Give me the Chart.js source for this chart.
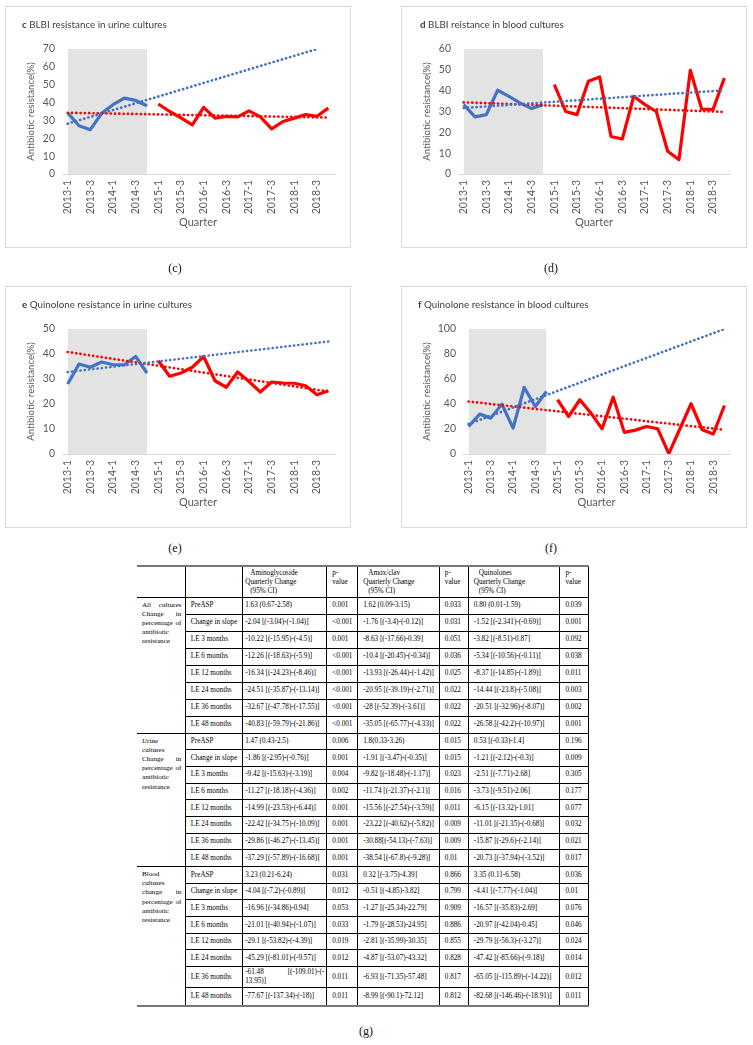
<!DOCTYPE html>
<html><head><meta charset="utf-8">
<script src="https://cdn.jsdelivr.net/npm/chart.js@4.4.0/dist/chart.umd.min.js"></script>
<style>
html,body{margin:0;padding:0;background:#fff;}
body{width:753px;height:1045px;position:relative;overflow:hidden;}
.panel{position:absolute;width:346px;height:242px;}
.frame{position:absolute;left:0;top:0;width:346px;height:242px;border:1px solid #D9D9D9;box-sizing:border-box;}
.panel canvas{position:absolute;left:0;top:0;}
.ptitle{position:absolute;top:12px;font:9.8px Lato;color:#404040;white-space:nowrap;}
.plabel{position:absolute;font:12px "Liberation Serif";color:#111;transform:translate(-50%,-50%);}
#tbl{position:absolute;left:137px;top:565px;border-collapse:collapse;table-layout:fixed;width:452px;
  font:7.2px/8.6px "Liberation Serif";color:#000;border-top:2px solid #777;border-bottom:2px solid #777;}
#tbl td{border:1px solid #000;padding:0 2px 0 5px;vertical-align:middle;white-space:nowrap;overflow:hidden;}
#tbl tr.hdr td{vertical-align:top;padding-top:2px;line-height:9px;}
#tbl td.c0{border-left:none;}
#tbl td.grp{vertical-align:top;white-space:normal;text-align:justify;padding:3px 3.5px 0 5px;line-height:9.2px;font-size:7.1px;}
#tbl td.est{padding-left:2px;}
.ind{padding-left:5px;}
</style></head>
<body>
<script>
// ---------- DATA ----------
const quarters = ['2013-1','2013-2','2013-3','2013-4','2014-1','2014-2','2014-3','2014-4',
  '2015-1','2015-2','2015-3','2015-4','2016-1','2016-2','2016-3','2016-4',
  '2017-1','2017-2','2017-3','2017-4','2018-1','2018-2','2018-3','2018-4'];
const preAspQuarters = ['2013-1','2013-2','2013-3','2013-4','2014-1','2014-2','2014-3','2014-4'];
const yTickMax = [70, 60, 50, 100];
const yTickStep = [10, 10, 5, 10];

// c BLBI urine
const blbiUrinePre  = [34.2, 27.0, 24.8, 34.0, 38.8, 42.5, 41.2, 38.2];
const blbiUrinePost = [39.2, 35.0, 31.4, 27.5, 37.3, 31.3, 32.2, 32.0, 35.4, 32.0, 25.3, 29.4, 31.3, 33.3, 32.3, 36.9];
const blbiUrinePreTrend  = [28.2, 70.0];   // at 2013-1 and 2018-3
const blbiUrinePostTrend = [34.3, 31.6];   // at 2013-1 and 2018-4
// d BLBI blood
const blbiBloodPre  = [33.3, 27.4, 28.5, 40.2, 37.3, 34.0, 31.4, 33.3];
const blbiBloodPost = [42.9, 30.0, 28.5, 44.5, 46.6, 18.0, 16.8, 37.3, 33.3, 30.0, 10.9, 6.9, 49.8, 31.2, 30.9, 46.1];
const blbiBloodPreTrend  = [31.7, 40.2];
const blbiBloodPostTrend = [34.4, 29.8];
// e Quinolone urine
const quinUrinePre  = [28.0, 36.0, 34.7, 36.8, 35.7, 35.7, 39.0, 32.4];
const quinUrinePost = [37.3, 31.1, 32.4, 34.7, 39.0, 29.3, 26.7, 32.8, 29.0, 24.8, 28.8, 28.4, 28.3, 27.3, 23.7, 25.3];
const quinUrinePreTrend  = [32.8, 45.0];
const quinUrinePostTrend = [40.8, 25.0];
// f Quinolone blood
const quinBloodPre  = [22.0, 31.9, 28.7, 39.9, 20.7, 53.2, 38.0, 50.0];
const quinBloodPost = [43.4, 30.0, 43.4, 32.7, 20.2, 45.5, 17.3, 19.1, 22.0, 20.2, 0.3, 20.2, 40.2, 19.4, 16.0, 38.8];
const quinBloodPreTrend  = [24.0, 100.0];
const quinBloodPostTrend = [42.0, 19.4];

const preTrendEnds  = [['2013-1','2018-3'], ['2013-1','2018-4'], ['2013-1','2018-4'], ['2013-1','2018-4']];
const postTrendEnds = ['2013-1','2018-4'];

const panelTitles = [['c',' BLBI resistance in urine cultures'], ['d',' BLBI reistance in blood cultures'],
                     ['e',' Quinolone resistance in urine cultures'], ['f',' Quinolone resistance in blood cultures']];
const yAxisTitle = 'Antibiotic resistance(%)';
const xAxisTitle = 'Quarter';

// table
const tableHeads = ['Aminoglycoside', 'Amox/clav', 'Quinolones'];
const tableGroups = ['All cultures Change in percentage of antibiotic resistance',
                     'Urine cultures Change in percentage of antibiotic resistance',
                     'Blood cultures change in percentage of antibiotic resistance'];
const tableRowNames = ['PreASP','Change in slope','LE 3 months','LE 6 months','LE 12 months','LE 24 months','LE 36 months','LE 48 months'];
const allCulturesRows = [
 ['1.63 (0.67-2.58)','0.001','1.62 (0.09-3.15)','0.033','0.80 (0.01-1.59)','0.039'],
 ['-2.04 [(-3.04)-(-1.04)]','<0.001','-1.76 [(-3.4)-(-0.12)]','0.031','-1.52 [(-2.341)-(-0.69)]','0.001'],
 ['-10.22 [(-15.95)-(-4.5)]','0.001','-8.63 [(-17.66)-0.39]','0.051','-3.82 [(-8.51)-0.87]','0.092'],
 ['-12.26 [(-18.63)-(-5.9)]','<0.001','-10.4 [(-20.45)-(-0.34)]','0.036','-5.34 [(-10.56)-(-0.11)]','0.038'],
 ['-16.34 [(-24.23)-(-8.46)]','<0.001','-13.93 [(-26.44)-(-1.42)]','0.025','-8.37 [(-14.85)-(-1.89)]','0.011'],
 ['-24.51 [(-35.87)-(-13.14)]','<0.001','-20.95 [(-39.19)-(-2.71)]','0.022','-14.44 [(-23.8)-(-5.08)]','0.003'],
 ['-32.67 [(-47.78)-(-17.55)]','<0.001','-28 [(-52.39)-(-3.61)]','0.022','-20.51 [(-32.96)-(-8.07)]','0.002'],
 ['-40.83 [(-59.79)-(-21.86)]','<0.001','-35.05 [(-65.77)-(-4.33)]','0.022','-26.58 [(-42.2)-(-10.97)]','0.001']];
const urineRows = [
 ['1.47 (0.43-2.5)','0.006','1.8(0.33-3.26)','0.015','0.53 [(-0.33)-1.4]','0.196'],
 ['-1.86 [(-2.95)-(-0.76)]','0.001','-1.91 [(-3.47)-(-0.35)]','0.015','-1.21 [(-2.12)-(-0.3)]','0.009'],
 ['-9.42 [(-15.63)-(-3.19)]','0.004','-9.82 [(-18.48)-(-1.17)]','0.023','-2.51 [(-7.71)-2.68]','0.305'],
 ['-11.27 [(-18.18)-(-4.36)]','0.002','-11.74 [(-21.37)-(-2.1)]','0.016','-3.73 [(-9.51)-2.06]','0.177'],
 ['-14.99 [(-23.53)-(-6.44)]','0.001','-15.56 [(-27.54)-(-3.59)]','0.011','-6.15 [(-13.32)-1.01]','0.077'],
 ['-22.42 [(-34.75)-(-10.09)]','0.001','-23.22 [(-40.62)-(-5.82)]','0.009','-11.01 [(-21.35)-(-0.68)]','0.032'],
 ['-29.86 [(-46.27)-(-13.45)]','0.001','-30.88[(-54.13)-(-7.63)]','0.009','-15.87 [(-29.6)-(-2.14)]','0.021'],
 ['-37.29 [(-57.89)-(-16.68)]','0.001','-38.54 [(-67.8)-(-9.28)]','0.01','-20.73 [(-37.94)-(-3.52)]','0.017']];
const bloodRows = [
 ['3.23 (0.21-6.24)','0.031','0.32 [(-3.75)-4.39]','0.866','3.35 (0.11-6.58)','0.036'],
 ['-4.04 [(-7.2)-(-0.89)]','0.012','-0.51 [(-4.85)-3.82]','0.799','-4.41 [(-7.77)-(-1.04)]','0.01'],
 ['-16.96 [(-34.86)-0.94]','0.053','-1.27 [(-25.34)-22.79]','0.909','-16.57 [(-35.83)-2.69]','0.076'],
 ['-21.01 [(-40.94)-(-1.07)]','0.033','-1.79 [(-28.53)-24.95]','0.886','-20.97 [(-42.04)-0.45]','0.046'],
 ['-29.1 [(-53.82)-(-4.39)]','0.019','-2.81 [(-35.99)-30.35]','0.855','-29.79 [(-56.3)-(-3.27)]','0.024'],
 ['-45.29 [(-81.01)-(-9.57)]','0.012','-4.87 [(-53.07)-43.32]','0.828','-47.42 [(-85.66)-(-9.18)]','0.014'],
 ['-61.48 [(-109.01)-(-13.95)]','0.011','-6.93 [(-71.35)-57.48]','0.817','-65.05 [(-115.89)-(-14.22)]','0.012'],
 ['-77.67 [(-137.34)-(-18)]','0.011','-8.99 [(-90.1)-72.12]','0.812','-82.68 [(-146.46)-(-18.91)]','0.011']];

// ---------- LAYOUT ----------
const panelBoxes = [[5,6],[401,6],[5,286],[401,286]];
const yAxisWidths = [57,57,57,62];
const titleLefts = [17,19,17,17];
const panelLabels = [['(c)',175,268],['(d)',551,268],['(e)',175,548],['(f)',551,548],['(g)',366,1031]];
const colWidths = [48.3,57.4,84,31,81.6,29,91.7,29];
const headerHeight = 31;
const groupRowHeights = [[17,17,17,17,17,17,17,17],[16.7,16.7,16.7,16.7,16.7,16.7,16.7,16.7],[16.7,16.7,16.7,16.7,16.7,16.7,21,18.3]];

const seriesPre  = [blbiUrinePre, blbiBloodPre, quinUrinePre, quinBloodPre];
const seriesPost = [blbiUrinePost, blbiBloodPost, quinUrinePost, quinBloodPost];
const trendPre   = [blbiUrinePreTrend, blbiBloodPreTrend, quinUrinePreTrend, quinBloodPreTrend];
const trendPost  = [blbiUrinePostTrend, blbiBloodPostTrend, quinUrinePostTrend, quinBloodPostTrend];

function placeAt(startLabel, values){
  const out = quarters.map(()=>null);
  const s = quarters.indexOf(startLabel);
  values.forEach((v,i)=>{ out[s+i] = v; });
  return out;
}
function placeEnds(ends, values){
  const out = quarters.map(()=>null);
  ends.forEach((q,i)=>{ out[quarters.indexOf(q)] = values[i]; });
  return out;
}

const BLUE = '#4472C4', RED = '#FF0000', SHADE = '#E3E3E3', TICK = '#595959';
const fontTick = {family:'Lato', size:10.5};

for (let p = 0; p < 4; p++) {
  const div = document.createElement('div');
  div.className = 'panel';
  div.style.left = panelBoxes[p][0] + 'px';
  div.style.top = panelBoxes[p][1] + 'px';
  const frame = document.createElement('div'); frame.className = 'frame'; div.appendChild(frame);
  const cv = document.createElement('canvas'); cv.width = 346; cv.height = 242; div.appendChild(cv);
  const t = document.createElement('div'); t.className = 'ptitle'; t.style.left = titleLefts[p] + 'px';
  const b = document.createElement('b'); b.textContent = panelTitles[p][0]; t.appendChild(b);
  t.appendChild(document.createTextNode(panelTitles[p][1]));
  div.appendChild(t);
  document.body.appendChild(div);

  const yMax = yTickMax[p];
  const yW = yAxisWidths[p];
  new Chart(cv, {
    type: 'line',
    data: {
      labels: quarters,
      datasets: [
        {data: placeAt(preAspQuarters[0], preAspQuarters.map(()=>yMax)), fill:'origin', backgroundColor:SHADE,
         borderWidth:0, pointRadius:0, order:5},
        {data: placeAt(preAspQuarters[0], seriesPre[p]), borderColor:BLUE, borderWidth:3.2, pointRadius:0,
         borderJoinStyle:'round', fill:false, order:3},
        {data: placeAt(quarters[preAspQuarters.length], seriesPost[p]), borderColor:RED, borderWidth:3.2, pointRadius:0,
         borderJoinStyle:'round', fill:false, order:3},
        {data: placeEnds(preTrendEnds[p], trendPre[p]), borderColor:BLUE, borderWidth:2.7, pointRadius:0,
         borderDash:[0.1,4.2], borderCapStyle:'round', spanGaps:true, fill:false, order:1},
        {data: placeEnds(postTrendEnds, trendPost[p]), borderColor:RED, borderWidth:2.7, pointRadius:0,
         borderDash:[0.1,4.2], borderCapStyle:'round', spanGaps:true, fill:false, order:1}
      ]
    },
    options: {
      responsive:false, animation:false, devicePixelRatio:1,
      layout:{padding:{left:0, right:17, top:43, bottom:14}},
      plugins:{legend:{display:false}, tooltip:{enabled:false}, title:{display:false}},
      scales:{
        x:{
          offset:true,
          grid:{display:false, drawTicks:false},
          border:{display:true, color:'#D9D9D9', width:1},
          ticks:{autoSkip:false, maxRotation:90, minRotation:90, padding:6, color:TICK, font:fontTick,
                 callback:(v,i)=> (i % 2 === 0 ? quarters[i] : '')},
          title:{display:true, text:xAxisTitle, color:TICK, font:{family:'Lato', size:11}, padding:{top:0,bottom:5}},
          afterFit:(s)=>{ s.height = 60; }
        },
        y:{
          min:0, max:yMax,
          grid:{display:false, drawTicks:false},
          border:{display:false},
          ticks:{stepSize:yTickStep[p], color:TICK, font:fontTick, padding:7},
          title:{display:true, text:yAxisTitle, color:TICK, font:{family:'Lato', size:9.6}, padding:{top:20.5,bottom:0}},
          afterFit:(s)=>{ s.width = yW; }
        }
      }
    }
  });
}

panelLabels.forEach(([txt,x,y])=>{
  const d = document.createElement('div'); d.className = 'plabel';
  d.style.left = x + 'px'; d.style.top = y + 'px'; d.textContent = txt;
  document.body.appendChild(d);
});

// ---------- TABLE ----------
const tbl = document.createElement('table'); tbl.id = 'tbl';
const cg = document.createElement('colgroup');
colWidths.forEach(w=>{ const c = document.createElement('col'); c.style.width = w + 'px'; cg.appendChild(c); });
tbl.appendChild(cg);
const hr = document.createElement('tr'); hr.className = 'hdr'; hr.style.height = headerHeight + 'px';
hr.innerHTML = '<td class="c0"></td><td></td>';
tableHeads.forEach((h,i)=>{
  const td = document.createElement('td');
  if (i === 0) td.className = 'est';
  td.innerHTML = '<div class="ind">' + h + '</div><div>Quarterly Change</div><div class="ind">(95% CI)</div>';
  hr.appendChild(td);
  const tp = document.createElement('td'); tp.innerHTML = 'p-<br>value'; hr.appendChild(tp);
});
tbl.appendChild(hr);
[allCulturesRows, urineRows, bloodRows].forEach((rows, g)=>{
  rows.forEach((r, ri)=>{
    const tr = document.createElement('tr'); tr.style.height = groupRowHeights[g][ri] + 'px';
    if (ri === 0) {
      const gc = document.createElement('td'); gc.className = 'grp c0'; gc.rowSpan = rows.length;
      gc.textContent = tableGroups[g]; tr.appendChild(gc);
    }
    const nc = document.createElement('td'); nc.textContent = tableRowNames[ri]; tr.appendChild(nc);
    r.forEach((v, ci)=>{
      const td = document.createElement('td');
      if (ci === 0) td.className = 'est';
      if (ci === 0 && v.length > 26) {
        const sp = v.indexOf(' ');
        const rest = v.slice(sp + 1);
        const cut = rest.indexOf('(-', rest.indexOf(')-')) + 2;
        td.style.whiteSpace = 'normal';
        td.innerHTML = '<div style="display:flex;justify-content:space-between"><span>' + v.slice(0, sp) +
          '</span><span>' + rest.slice(0, cut) + '</span></div><div>' + rest.slice(cut) + '</div>';
        td.style.verticalAlign = 'top';
        td.style.paddingTop = '1px';
      } else {
        td.textContent = v;
      }
      tr.appendChild(td);
    });
    tbl.appendChild(tr);
  });
});
document.body.appendChild(tbl);
</script>
</body></html>
